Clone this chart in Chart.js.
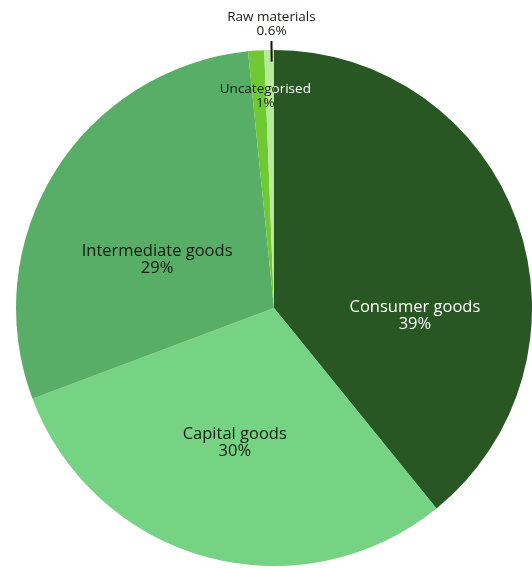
<!DOCTYPE html>
<html>
<head>
<meta charset="utf-8">
<script src="https://cdn.jsdelivr.net/npm/chart.js@4.4.1/dist/chart.umd.min.js"></script>
<style>
  html, body { margin: 0; padding: 0; background: #fff; overflow: hidden; }
  #frame { position: relative; width: 532px; height: 569px; overflow: hidden; }
  #holder { position: absolute; left: 0; top: 0; width: 548px; height: 616px; }
</style>
</head>
<body>
<div id="frame"><div id="holder"><canvas id="pie"></canvas></div></div>
<script>
    // Trade by broad product category, share of total (%)
    const categories = ['Consumer goods', 'Capital goods', 'Intermediate goods', 'Uncategorised', 'Raw materials'];
    const shares = [39, 30, 29, 1, 0.6];
    const shareLabels = ['39%', '30%', '29%', '1%', '0.6%'];

    const sliceColors = ['#285723', '#76d384', '#58ae66', '#70c932', '#b7e99c'];
    const textColors = ['#ffffff', '#0f1c11', '#0f1c11', '#0f1c11', '#0f1c11'];
    const fontSizes = [16.5, 16.5, 16.5, 13.5, 13.5];
    // where each inside label sits: fraction along the slice's sweep, fraction of the radius
    const labelSweep = [0.66, 0.51, 0.41, 0.95, null];
    const labelRadius = [0.547, 0.543, 0.49, 0.82, null];
    const FONT = '"Open Sans", "Noto Sans", sans-serif';

    function arcPath(ctx, arc) {
        ctx.beginPath();
        ctx.moveTo(arc.x, arc.y);
        ctx.arc(arc.x, arc.y, arc.outerRadius, arc.startAngle, arc.endAngle);
        ctx.closePath();
    }

    function drawTwoLines(ctx, x, y, lines, size, color) {
        ctx.fillStyle = color;
        ctx.font = size + 'px ' + FONT;
        ctx.textAlign = 'center';
        ctx.textBaseline = 'middle';
        const gap = size + 0.5;
        ctx.fillText(lines[0], x, y - gap / 2);
        ctx.fillText(lines[1], x, y + gap / 2);
    }

    const sliceLabels = {
        id: 'sliceLabels',
        afterDatasetsDraw(chart) {
            const ctx = chart.ctx;
            const arcs = chart.getDatasetMeta(0).data;
            arcs.forEach((arc, i) => {
                const lines = [categories[i], shareLabels[i]];
                if (labelSweep[i] === null) {
                    // small slice: label sits outside with a short leader line
                    const mid = arc.startAngle + (arc.endAngle - arc.startAngle) * 0.75;
                    const r = arc.outerRadius;
                    const x0 = arc.x + Math.cos(mid) * r * 0.955;
                    const y0 = arc.y + Math.sin(mid) * r * 0.955;
                    const x1 = arc.x + Math.cos(mid) * r * 1.035;
                    const y1 = arc.y + Math.sin(mid) * r * 1.035;
                    ctx.save();
                    ctx.strokeStyle = '#111';
                    ctx.lineWidth = 2;
                    ctx.beginPath();
                    ctx.moveTo(x0, y0);
                    ctx.lineTo(x1, y1);
                    ctx.stroke();
                    drawTwoLines(ctx, x1, y1 - 17, lines, fontSizes[i], '#0f1c11');
                    ctx.restore();
                    return;
                }
                const ang = arc.startAngle + (arc.endAngle - arc.startAngle) * labelSweep[i];
                const lx = arc.x + Math.cos(ang) * arc.outerRadius * labelRadius[i];
                const ly = arc.y + Math.sin(ang) * arc.outerRadius * labelRadius[i];
                // text takes the contrast colour of whichever slice it lies on
                arcs.forEach((other, j) => {
                    ctx.save();
                    arcPath(ctx, other);
                    ctx.clip();
                    drawTwoLines(ctx, lx, ly, lines, fontSizes[i], textColors[j]);
                    ctx.restore();
                });
            });
        }
    };

    new Chart(document.getElementById('pie'), {
        type: 'pie',
        data: {
            labels: categories,
            datasets: [{
                data: shares,
                backgroundColor: sliceColors,
                borderWidth: 0,
                hoverOffset: 0,
                offset: 0
            }]
        },
        options: {
            responsive: true,
            maintainAspectRatio: false,
            animation: false,
            layout: { padding: { left: 16, right: 16, top: 50, bottom: 50 } },
            plugins: {
                legend: { display: false },
                tooltip: { enabled: false }
            },
            events: []
        },
        plugins: [sliceLabels]
    });
</script>
</body>
</html>
